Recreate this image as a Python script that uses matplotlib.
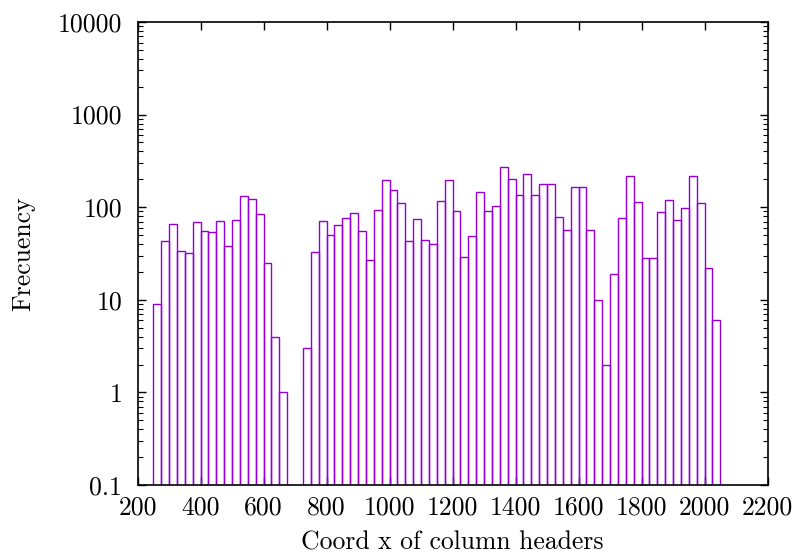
import matplotlib
matplotlib.use("Agg")
import matplotlib.pyplot as plt
from matplotlib.ticker import FixedLocator, FixedFormatter, LogLocator, NullFormatter

plt.rcParams['font.family'] = ['cmr10', 'DejaVu Serif']
plt.rcParams['axes.formatter.use_mathtext'] = True

# Bin left edges (width 25) and counts
bin_left = [250, 275, 300, 325, 350, 375, 400, 425, 450, 475, 500, 525, 550, 575, 600, 625, 650,
            675, 700,
            725, 750, 775, 800, 825, 850, 875, 900, 925, 950, 975, 1000, 1025, 1050, 1075, 1100,
            1125, 1150, 1175, 1200, 1225, 1250, 1275, 1300, 1325, 1350, 1375, 1400, 1425, 1450,
            1475, 1500, 1525, 1550, 1575, 1600, 1625, 1650, 1675, 1700, 1725, 1750, 1775, 1800,
            1825, 1850, 1875, 1900, 1925, 1950, 1975, 2000, 2025]
counts = [9, 43, 66, 34, 32, 69, 55, 54, 71, 38, 72, 131, 124, 85, 25, 4, 1,
          0, 0,
          3, 33, 71, 50, 65, 77, 87, 56, 27, 94, 195, 155, 110, 43, 74, 44,
          40, 117, 197, 92, 29, 49, 145, 92, 103, 275, 202, 134, 231, 137,
          177, 177, 79, 57, 166, 166, 57, 10, 2, 19, 77, 216, 115, 28,
          28, 88, 119, 72, 99, 218, 111, 22, 6]
bin_width = 25

x_ticks = [200, 400, 600, 800, 1000, 1200, 1400, 1600, 1800, 2000, 2200]
y_ticks = [0.1, 1, 10, 100, 1000, 10000]
y_labels = ["0.1", "1", "10", "100", "1000", "10000"]

FS = 18.5

fig = plt.figure(figsize=(7.95, 5.55), dpi=100)
ax = fig.add_axes([137.5 / 795, 1 - 485 / 555, 630 / 795, 463 / 555])

xs = [x for x, c in zip(bin_left, counts) if c > 0]
hs = [c for c in counts if c > 0]
ax.bar(xs, hs, width=bin_width, align='edge',
       fill=False, edgecolor='#9400D3', linewidth=1.0, zorder=2)

ax.set_yscale('log')
ax.set_xlim(200, 2200)
ax.set_ylim(0.1, 10000)

ax.xaxis.set_major_locator(FixedLocator(x_ticks))
ax.set_xticklabels([str(t) for t in x_ticks])
ax.yaxis.set_major_locator(FixedLocator(y_ticks))
ax.yaxis.set_major_formatter(FixedFormatter(y_labels))
ax.yaxis.set_minor_locator(LogLocator(base=10, subs=range(2, 10)))
ax.yaxis.set_minor_formatter(NullFormatter())

ax.tick_params(axis='both', which='both', direction='in', top=True, right=True,
               labelsize=FS, color='black')
ax.tick_params(axis='both', which='major', length=6, width=1)
ax.tick_params(axis='y', which='minor', length=3.5, width=0.8)
ax.tick_params(axis='x', which='major', pad=8)
ax.tick_params(axis='y', which='major', pad=11)

for s in ax.spines.values():
    s.set_linewidth(1.2)
    s.set_zorder(5)

ax.set_xlabel("Coord x of column headers", fontsize=FS, labelpad=8)
ax.set_ylabel("Frecuency", fontsize=FS, labelpad=16)

fig.savefig("out.png", dpi=100)
